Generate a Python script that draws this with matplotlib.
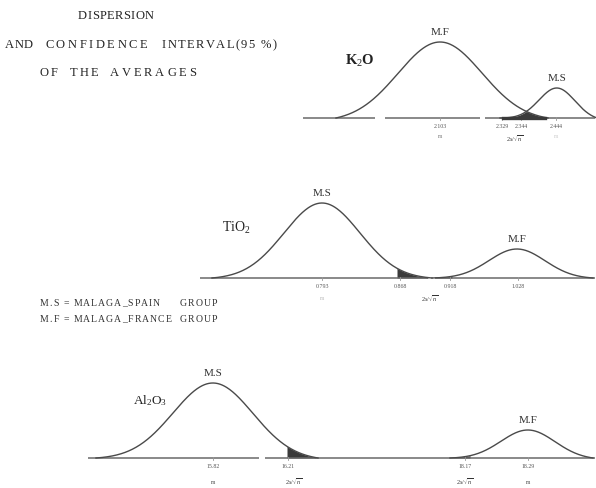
import numpy as np
import matplotlib.pyplot as plt
from matplotlib.font_manager import FontProperties

plt.rcParams['font.family'] = ['Liberation Serif', 'DejaVu Serif']
plt.rcParams['mathtext.fontset'] = 'custom'
plt.rcParams['mathtext.rm'] = 'Liberation Serif'
plt.rcParams['mathtext.it'] = 'Liberation Serif:italic'

INK = '#4a4a4a'

# --- data (sketch units) ---
# K2O
k2o_groups = ["M.F", "M.S"]
k2o_centre = [440, 557]
k2o_spread = [42, 18]
k2o_height = [76, 30]
k2o_tick_pos = [440, 502, 521, 556]
k2o_tick_lab = ["2.103", "2.329", "2.344", "2.444"]

# TiO2
tio2_groups = ["M.S", "M.F"]
tio2_centre = [322, 517]
tio2_spread = [38, 28]
tio2_height = [75, 29]
tio2_tick_pos = [322, 400, 450, 518]
tio2_tick_lab = ["0.793", "0.868", "0.918", "1.028"]

# Al2O3
al_groups = ["M.S", "M.F"]
al_centre = [213, 528]
al_spread = [40, 27]
al_height = [75, 28]
al_tick_pos = [213, 288, 465, 528]
al_tick_lab = ["15.82", "16.21", "18.17", "18.29"]


def bell(x, c, s, h, a, b):
    # hand-drawn bell: gaussian brought down to the baseline at both ends
    g = lambda t: np.exp(-0.5 * ((t - c) / s) ** 2)
    ga, gb = g(a), g(b)
    lin = lambda t: ga + (gb - ga) * (t - a) / (b - a)
    return h * (g(x) - lin(x)) / (1 - lin(c))


fig = plt.figure(figsize=(5.96, 4.88), dpi=100)
ax = fig.add_axes([0, 0, 1, 1])
ax.set_xlim(0, 596)
ax.set_ylim(488, 0)
ax.axis('off')
renderer = fig.canvas.get_renderer()


def spaced(x, y, s, track, size, color='#222222'):
    # typewriter look: place letters one by one with extra tracking (px)
    prop = FontProperties(family='Liberation Serif', size=size)
    for ch in s:
        ax.text(x, y, ch, ha='left', va='center', fontproperties=prop,
                color=color)
        w, _, _ = renderer.get_text_width_height_descent(ch, prop, ismath=False)
        x += w + track


def panel(base, x0, x1, gaps, centres, spreads, heights, groups, spans,
          shades, tick_pos, tick_lab):
    # baseline in pieces (scan has breaks)
    edges = [x0] + [g for gap in gaps for g in gap] + [x1]
    for a, b in zip(edges[::2], edges[1::2]):
        ax.plot([a, b], [base, base], color='#6a6a6a', lw=1.1,
                solid_capstyle='butt')
    for c, s, h, g, (a, b) in zip(centres, spreads, heights, groups, spans):
        x = np.linspace(a, b, 300)
        ax.plot(x, base - bell(x, c, s, h, a, b), color=INK, lw=1.0)
        ax.text(c, base - h - 5, g, ha='center', va='bottom', fontsize=8,
                color='#333333')

    def curve(i, x):
        return bell(x, centres[i], spreads[i], heights[i], *spans[i])

    for a, b, which in shades:
        x = np.linspace(a, b, 100)
        if which == 'both':
            y = np.minimum(curve(0, x), curve(1, x))
        else:
            y = curve(which, x)
        ax.fill_between(x, base, base - np.clip(y, 0, None),
                        color='#3a3a3a', lw=0)
    for p, t in zip(tick_pos, tick_lab):
        ax.plot([p, p], [base - 1, base + 1.5], color='#999999', lw=0.6)
        ax.text(p, base + 9, t, ha='center', va='center', fontsize=4.2,
                color='#555555')


# K2O
panel(118, 303, 595, [(375, 385), (480, 485)],
      k2o_centre, k2o_spread, k2o_height, k2o_groups,
      [(336, 548), (500, 597)], [(503, 545, 'both')],
      k2o_tick_pos, k2o_tick_lab)
ax.plot([503, 545], [118, 118], color='#3a3a3a', lw=2.4)
ax.text(345, 61, r'K$_2$O', fontsize=10.5, fontweight='bold', color='#222222',
        va='center')
ax.text(440, 137, 'm', ha='center', va='center', fontsize=4, color='#777777')
ax.text(515, 139, r'$2s/\sqrt{n}$', ha='center', va='center', fontsize=4.5,
        color='#333333')
ax.text(556, 137, 'm', ha='center', va='center', fontsize=4, color='#cccccc')

# TiO2
panel(278, 200, 595, [(428, 435)],
      tio2_centre, tio2_spread, tio2_height, tio2_groups,
      [(212, 432), (432, 593)], [(397, 428, 0), (435, 452, 1)],
      tio2_tick_pos, tio2_tick_lab)
ax.text(222, 228, r'TiO$_2$', fontsize=10, color='#222222', va='center')
ax.text(322, 298, 'm', ha='center', va='center', fontsize=4, color='#bbbbbb')
ax.text(430, 299, r'$2s/\sqrt{n}$', ha='center', va='center', fontsize=4.5,
        color='#333333')

# Al2O3
panel(458, 88, 595, [(259, 265)],
      al_centre, al_spread, al_height, al_groups,
      [(96, 318), (450, 593)], [(287, 316, 0), (452, 470, 1)],
      al_tick_pos, al_tick_lab)
ax.text(133, 401, r'Al$_2$O$_3$', fontsize=9.5, color='#222222', va='center')
ax.text(213, 482, 'm', ha='center', va='center', fontsize=4, color='#444444')
ax.text(294, 482, r'$2s/\sqrt{n}$', ha='center', va='center', fontsize=4.5,
        color='#333333')
ax.text(465, 482, r'$2s/\sqrt{n}$', ha='center', va='center', fontsize=4.5,
        color='#333333')
ax.text(528, 482, 'm', ha='center', va='center', fontsize=4, color='#444444')

# headings (letter-spaced like the typewritten original)
spaced(78, 16, 'DISPERSION', 0.4, 9)
spaced(5, 45, 'AND', 0.5, 9)
spaced(45, 45, 'CONFIDENCE', 2.6, 9)
spaced(162, 45, 'INTERVAL(95 %)', 1.4, 9)
spaced(40, 73, 'OF', 2.0, 9)
spaced(70, 73, 'THE', 2.2, 9)
spaced(110, 73, 'AVERAGES', 2.8, 9)

spaced(40, 303, 'M.S = MALAGA_SPAIN', 1.0, 7, '#333333')
spaced(180, 303, 'GROUP', 1.0, 7, '#333333')
spaced(40, 319, 'M.F = MALAGA_FRANCE', 1.0, 7, '#333333')
spaced(180, 319, 'GROUP', 1.0, 7, '#333333')

fig.savefig('out.png', dpi=100)
